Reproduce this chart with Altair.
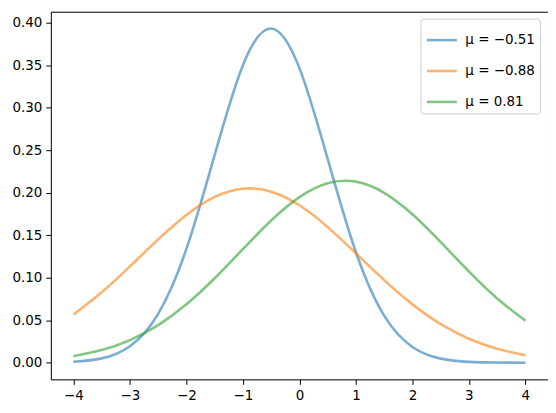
import altair as alt
import pandas as pd

x_vals = [-4.0, -3.5, -3.0, -2.5, -2.0, -1.5, -1.0, -0.5, 0.0, 0.5, 1.0, 1.5, 2.0, 2.5, 3.0, 3.5, 4.0]

labels = ["μ = −0.51", "μ = −0.88", "μ = 0.81"]
colors = ["#1f77b4", "#ff7f0e", "#2ca02c"]

blue_y = [0.0011, 0.0051, 0.0194, 0.0575, 0.1338, 0.2443, 0.3498, 0.3930, 0.3464, 0.2396,
          0.1299, 0.0553, 0.0185, 0.0048, 0.0010, 0.0002, 0.00003]
orange_y = [0.0567, 0.0828, 0.1133, 0.1450, 0.1737, 0.1949, 0.2046, 0.2011, 0.1851, 0.1594,
            0.1286, 0.0971, 0.0686, 0.0453, 0.0281, 0.0163, 0.0088]
green_y = [0.0077, 0.0148, 0.0265, 0.0442, 0.0687, 0.0993, 0.1336, 0.1672, 0.1947, 0.2111,
           0.2129, 0.1998, 0.1745, 0.1419, 0.1073, 0.0755, 0.0495]

rows = []
for lab, ys in zip(labels, [blue_y, orange_y, green_y]):
    for xv, yv in zip(x_vals, ys):
        rows.append({"x": xv, "y": yv, "series": lab})
df = pd.DataFrame(rows)

x_ticks = [-4, -3, -2, -1, 0, 1, 2, 3, 4]
y_ticks = [0.0, 0.05, 0.1, 0.15, 0.2, 0.25, 0.3, 0.35, 0.4]

axis_style = dict(grid=False, domain=False, tickColor="black", tickSize=5, tickWidth=1,
                  labelFont="DejaVu Sans", labelFontSize=13.5, labelColor="black",
                  labelPadding=4, title=None)

chart = alt.Chart(df).mark_line(
    strokeWidth=2.6, opacity=0.6, interpolate="natural"
).encode(
    x=alt.X("x:Q", scale=alt.Scale(domain=[-4.4, 4.4], nice=False, zero=False),
            axis=alt.Axis(values=x_ticks, format="d", **axis_style)),
    y=alt.Y("y:Q", scale=alt.Scale(domain=[-0.0196, 0.4127], nice=False, zero=False),
            axis=alt.Axis(values=y_ticks, format=".2f", **axis_style)),
    color=alt.Color("series:N", sort=labels,
                    scale=alt.Scale(domain=labels, range=colors),
                    legend=alt.Legend(title=None, orient="none", legendX=371, legendY=7,
                                      symbolType="stroke", symbolSize=900,
                                      symbolStrokeWidth=2.6, symbolOpacity=0.6,
                                      labelFontSize=13.5, labelFont="DejaVu Sans",
                                      labelColor="black", padding=5, rowPadding=8,
                                      strokeColor="#cccccc", fillColor="white",
                                      cornerRadius=3, labelOffset=7)),
    detail="series:N",
).properties(
    width=499, height=369,
    autosize=alt.AutoSizeParams(type="none"),
    padding={"left": 43, "top": 3, "right": 0, "bottom": 30},
).configure_view(
    stroke="black", strokeWidth=1
)

chart.save("out.html", embed_options={"renderer": "svg", "actions": False})
